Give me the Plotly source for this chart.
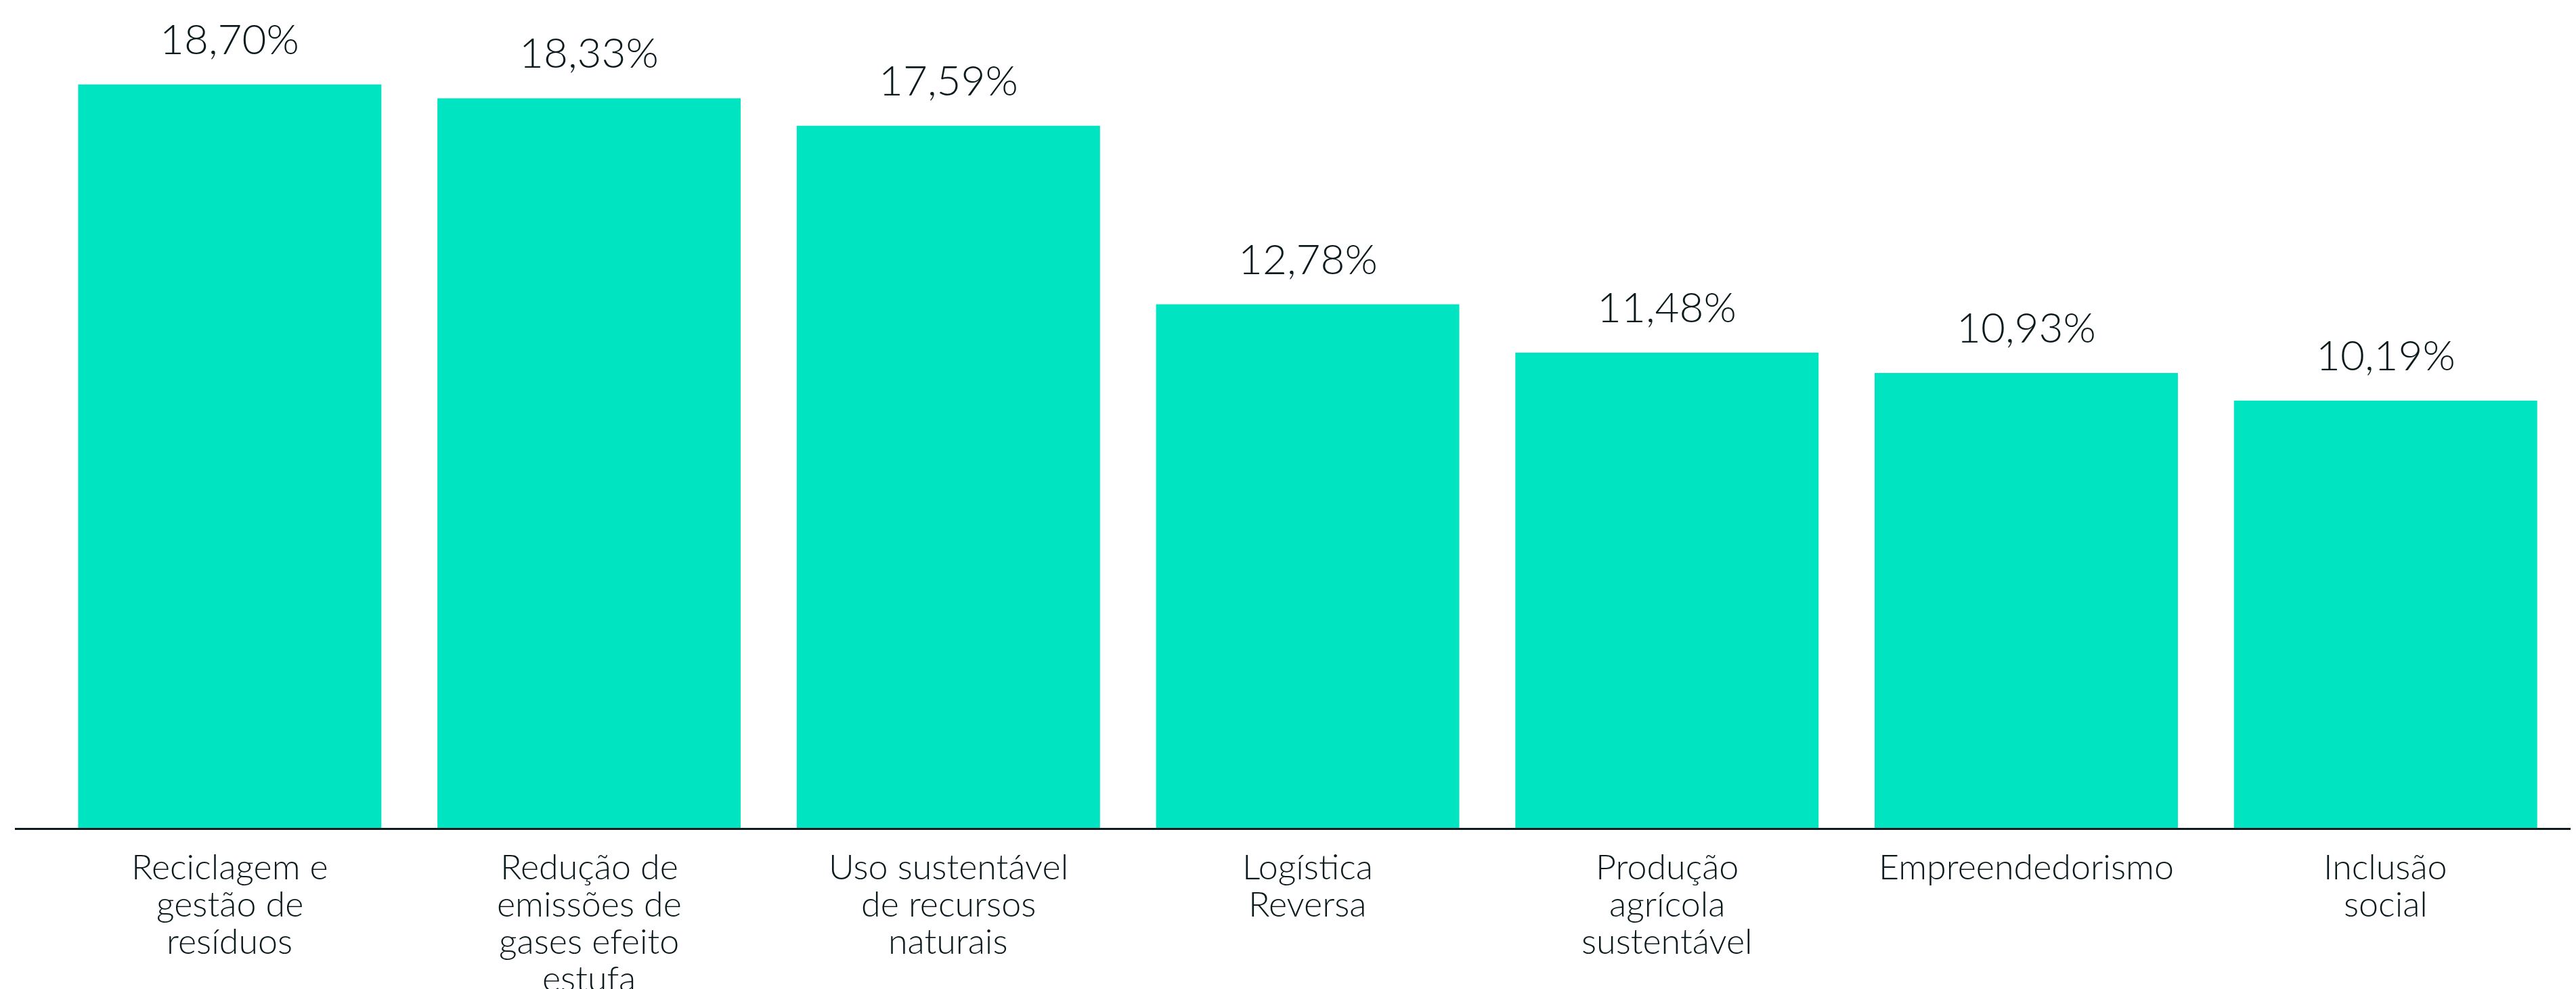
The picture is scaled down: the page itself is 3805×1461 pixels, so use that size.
import plotly.graph_objects as go

# categories (line breaks as in the chart) and their shares in %
categories = [
    "Reciclagem e<br>gestão de<br>resíduos",
    "Redução de<br>emissões de<br>gases efeito<br>estufa",
    "Uso sustentável<br>de recursos<br>naturais",
    "Logística<br>Reversa",
    "Produção<br>agrícola<br>sustentável",
    "Empreendedorismo",
    "Inclusão<br>social",
]
shares = [18.70, 18.33, 17.59, 12.78, 11.48, 10.93, 10.19]
share_labels = ["18,70%", "18,33%", "17,59%", "12,78%", "11,48%", "10,93%", "10,19%"]

BAR_COLOR = "#00E4C2"
TEXT_COLOR = "#0C1A1D"
FONT = "Lato"

# the axis of the original chart does not start at zero
Y_FLOOR = -1.32
Y_TOP = 20.83

fig = go.Figure()

fig.add_trace(
    go.Bar(
        x=categories,
        y=[v - Y_FLOOR for v in shares],
        base=Y_FLOOR,
        marker_color=BAR_COLOR,
        marker_line_width=0,
        hoverinfo="skip",
    )
)

# value labels above the bars
for cat, val, lab in zip(categories, shares, share_labels):
    fig.add_annotation(
        x=cat,
        y=val,
        xref="x",
        yref="y",
        text=lab,
        showarrow=False,
        yanchor="bottom",
        yshift=30,
        font=dict(family=FONT, size=62, color=TEXT_COLOR, weight=300),
    )

# category labels, one line at a time to keep the tight line spacing
for cat in categories:
    for i, line in enumerate(cat.split("<br>")):
        fig.add_annotation(
            x=cat,
            y=0,
            xref="x",
            yref="paper",
            text=line,
            showarrow=False,
            yanchor="top",
            yshift=-23 - 55 * i,
            font=dict(family=FONT, size=52, color=TEXT_COLOR, weight=300),
        )

fig.update_xaxes(
    range=[-0.598, 6.530],
    showticklabels=False,
    showgrid=False,
    zeroline=False,
    showline=True,
    linecolor=TEXT_COLOR,
    linewidth=3,
    ticks="",
)

fig.update_yaxes(
    range=[Y_FLOOR, Y_TOP],
    visible=False,
    showgrid=False,
    zeroline=False,
)

# the page adds an 8px body margin, so the margins are trimmed by that much
fig.update_layout(
    width=3805,
    height=1461,
    margin=dict(l=14, r=8, t=0, b=246),
    bargap=0.156,
    plot_bgcolor="white",
    paper_bgcolor="white",
    showlegend=False,
    font=dict(family=FONT, color=TEXT_COLOR),
)

fig.write_html("out.html")
